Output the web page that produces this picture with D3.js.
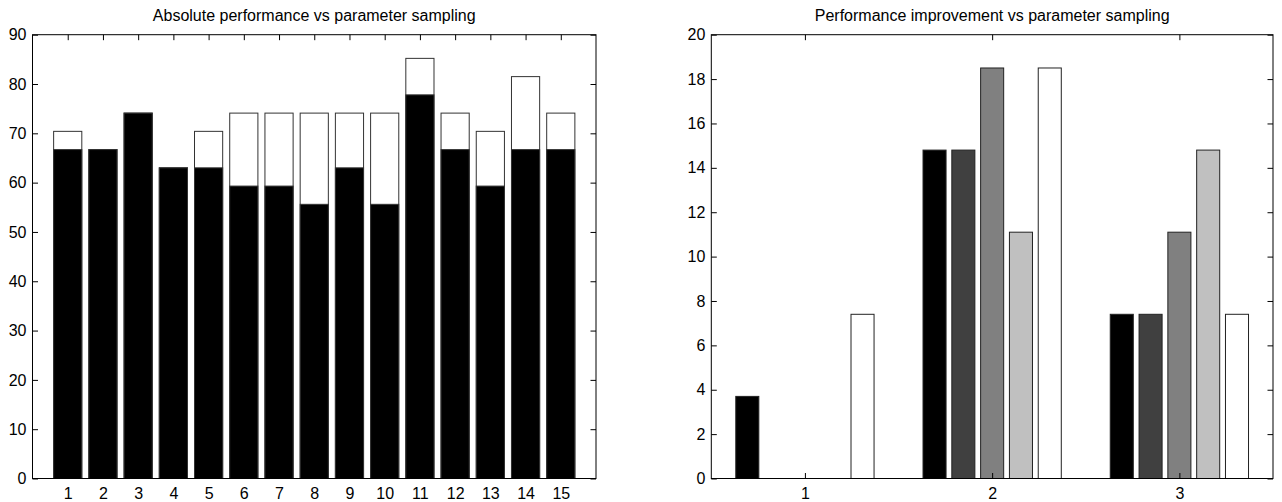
<!DOCTYPE html>
<html>
<head>
<meta charset="utf-8">
<script src="https://cdn.jsdelivr.net/npm/d3@7"></script>
<style>
  body { margin: 0; background: #fff; }
  svg { display: block; font-family: "Liberation Sans", Arial, sans-serif; }
  .tick text { font-size: 16px; fill: #000; }
  .title { font-size: 16px; fill: #000; }
</style>
</head>
<body>
<div id="chart"></div>
<script>
// left panel: best run (white, behind) and sampled run (black, front)
const runs = d3.range(1, 16);
const bestScore = [70.4, 66.7, 74.1, 63.0, 70.4, 74.1, 74.1, 74.1, 74.1, 74.1, 85.2, 74.1, 70.4, 81.5, 74.1];
const sampledScore = [66.7, 66.7, 74.1, 63.0, 63.0, 59.3, 59.3, 55.6, 63.0, 55.6, 77.8, 66.7, 59.3, 66.7, 66.7];
const leftTicksY = d3.range(0, 91, 10);

// right panel: 3 groups x 5 series
const groups = [1, 2, 3];
const improvement = [
  [3.7, 0, 0, 0, 7.4],
  [14.8, 14.8, 18.5, 11.1, 18.5],
  [7.4, 7.4, 11.1, 14.8, 7.4]
];
const seriesColors = ['#000000', '#404040', '#808080', '#c0c0c0', '#ffffff'];
const rightTicksY = d3.range(0, 21, 2);

const width = 1282, height = 502;
const plotTop = 34.7, plotBottom = 478.5, tickLen = 5.5;

const svg = d3.select('#chart').append('svg')
  .attr('width', width)
  .attr('height', height);

function frame(g, x, y, xTicks, yTicks, titleText) {
  const [x0, x1] = x.range();
  g.append('g')
    .attr('transform', `translate(0,${plotBottom})`)
    .call(d3.axisBottom(x).tickValues(xTicks).tickSize(-tickLen).tickSizeOuter(0).tickPadding(9.5).tickFormat(d3.format('d')));
  g.append('g')
    .attr('transform', `translate(0,${plotTop})`)
    .call(d3.axisTop(x).tickValues(xTicks).tickSize(-tickLen).tickSizeOuter(0).tickFormat(''));
  g.append('g')
    .attr('transform', `translate(${x0},0)`)
    .call(d3.axisLeft(y).tickValues(yTicks).tickSize(-tickLen).tickSizeOuter(0).tickPadding(6));
  g.append('g')
    .attr('transform', `translate(${x1},0)`)
    .call(d3.axisRight(y).tickValues(yTicks).tickSize(-tickLen).tickSizeOuter(0).tickFormat(''));
  g.selectAll('.domain').remove();
  g.selectAll('.tick line').attr('stroke', '#000');
  g.append('rect')
    .attr('x', x0).attr('y', plotTop)
    .attr('width', x1 - x0).attr('height', plotBottom - plotTop)
    .attr('fill', 'none').attr('stroke', '#000');
  g.append('text')
    .attr('class', 'title')
    .attr('x', (x0 + x1) / 2).attr('y', 21)
    .attr('text-anchor', 'middle')
    .text(titleText);
}

// ---- left
const xL = d3.scaleLinear().domain([0, 16]).range([32.5, 596]);
const yL = d3.scaleLinear().domain([0, 90]).range([plotBottom, plotTop]);
const gL = svg.append('g');
const bw = 0.8;

gL.selectAll('rect.best')
  .data(runs)
  .enter().append('rect')
    .attr('class', 'best')
    .attr('x', (d) => xL(d - bw / 2))
    .attr('width', (d) => xL(d + bw / 2) - xL(d - bw / 2))
    .attr('y', (d, i) => yL(bestScore[i]))
    .attr('height', (d, i) => yL(0) - yL(bestScore[i]))
    .attr('fill', '#fff').attr('stroke', '#333');

gL.selectAll('rect.sampled')
  .data(runs)
  .enter().append('rect')
    .attr('class', 'sampled')
    .attr('x', (d) => xL(d - bw / 2))
    .attr('width', (d) => xL(d + bw / 2) - xL(d - bw / 2))
    .attr('y', (d, i) => yL(sampledScore[i]))
    .attr('height', (d, i) => yL(0) - yL(sampledScore[i]))
    .attr('fill', '#000').attr('stroke', '#333');

frame(gL, xL, yL, runs, leftTicksY, 'Absolute performance vs parameter sampling');

// ---- right
const xR = d3.scaleLinear().domain([0.5, 3.5]).range([711.3, 1273]);
const yR = d3.scaleLinear().domain([0, 20]).range([plotBottom, plotTop]);
const gR = svg.append('g');
const nSeries = seriesColors.length;
const groupWidth = Math.min(0.8, nSeries / (nSeries + 1.5));
const step = groupWidth / nSeries;
const barW = step * 0.8;

const cells = [];
groups.forEach((grp, gi) => {
  improvement[gi].forEach((v, si) => {
    cells.push({ center: grp + (si - (nSeries - 1) / 2) * step, value: v, series: si });
  });
});

gR.selectAll('rect.bar')
  .data(cells)
  .enter().append('rect')
    .attr('class', 'bar')
    .attr('x', (d) => xR(d.center - barW / 2))
    .attr('width', (d) => xR(d.center + barW / 2) - xR(d.center - barW / 2))
    .attr('y', (d) => yR(d.value))
    .attr('height', (d) => yR(0) - yR(d.value))
    .attr('fill', (d) => seriesColors[d.series])
    .attr('stroke', '#222');

frame(gR, xR, yR, groups, rightTicksY, 'Performance improvement vs parameter sampling');
</script>
</body>
</html>
